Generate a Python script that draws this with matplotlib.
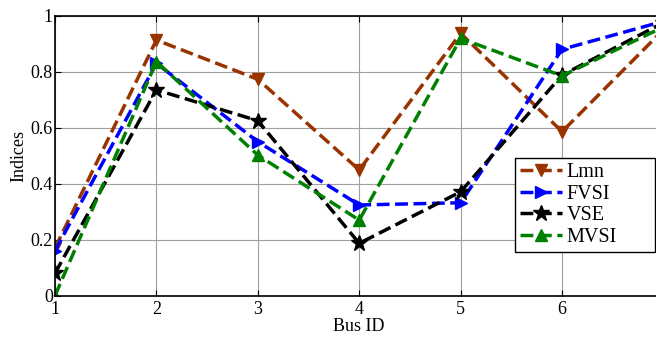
import matplotlib
matplotlib.use("Agg")
import matplotlib.pyplot as plt
import numpy as np

plt.rcParams['font.family'] = ['Liberation Serif', 'DejaVu Serif']

bus = [1, 2, 3, 4, 5, 6, 7]
lmn = [0.17, 0.913, 0.773, 0.449, 0.937, 0.586, 0.95]
fvsi = [0.16, 0.83, 0.55, 0.324, 0.332, 0.88, 0.98]
vse = [0.08, 0.735, 0.625, 0.187, 0.371, 0.788, 0.975]
mvsi = [0.0, 0.836, 0.502, 0.27, 0.919, 0.785, 0.96]

fig = plt.figure(figsize=(6.56, 3.39), dpi=100)
# axes run past the right edge of the picture (cropped original)
ax = fig.add_axes([0.0838, 0.1277, 0.9276, 0.826])

ax.plot(bus, lmn, '--v', color=(0.6, 0.2, 0.0), lw=2.5, ms=9, label="Lmn")
ax.plot(bus, fvsi, '-->', color=(0.0, 0.0, 1.0), lw=2.5, ms=9, label="FVSI")
ax.plot(bus, vse, '--*', color='black', lw=2.5, ms=12, label="VSE")
ax.plot(bus, mvsi, '--^', color=(0.0, 0.5, 0.0), lw=2.5, ms=9, label="MVSI")

ax.set_xlim(1, 7)
ax.set_ylim(0, 1)
ax.set_xticks([1, 2, 3, 4, 5, 6])
ax.set_yticks([0, 0.2, 0.4, 0.6, 0.8, 1])
ax.set_yticklabels(["0", "0.2", "0.4", "0.6", "0.8", "1"])
ax.tick_params(direction='in', labelsize=13, top=True, right=True, length=4)
ax.tick_params(axis='y', pad=1.5)
ax.tick_params(axis='x', pad=4)
ax.grid(True, color='#a0a0a0', lw=0.8)
for s in ax.spines.values():
    s.set_linewidth(1.2)

ax.set_xlabel("Bus ID", fontsize=13, labelpad=0)
ax.set_ylabel("Indices", fontsize=13, labelpad=2)

# legend box sized like the MATLAB one (wide right padding)
leg = fig.legend(loc='upper left', bbox_to_anchor=(515 / 656, 1 - 158 / 339, 140 / 656, 0.0),
                 mode='expand', fontsize=14.5,
                 fancybox=False, edgecolor='black', framealpha=1,
                 handlelength=2.1, borderpad=0.25, labelspacing=0.12, handletextpad=0.2,
                 borderaxespad=0.0)
leg.get_frame().set_linewidth(1.0)

fig.savefig("out.png", dpi=100)
